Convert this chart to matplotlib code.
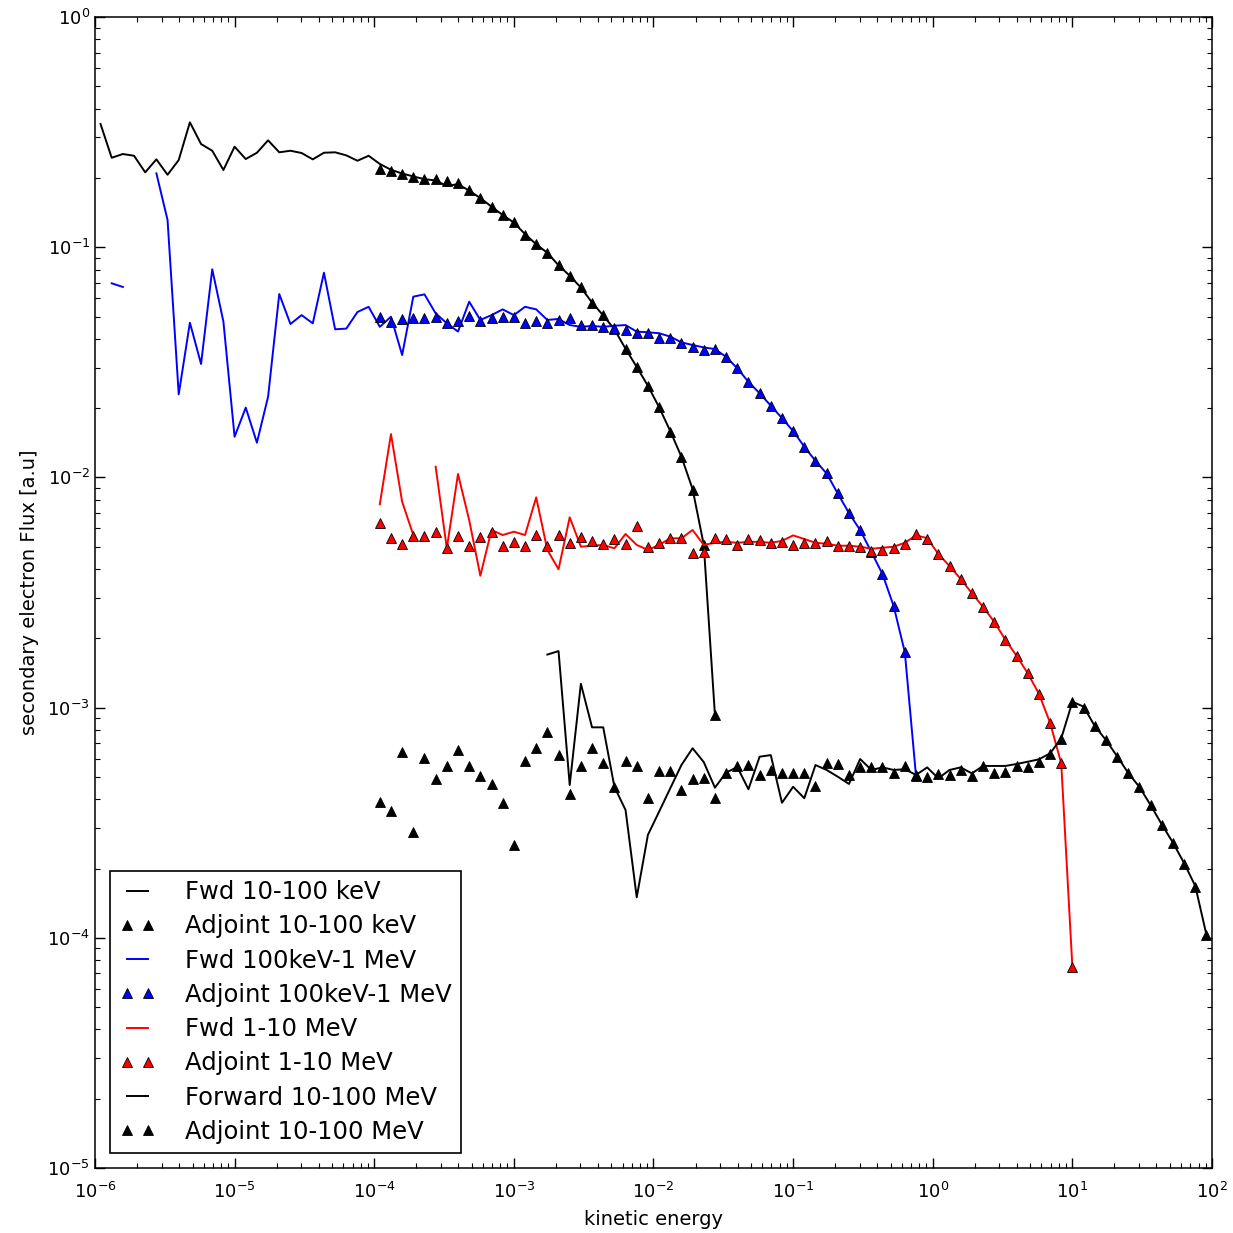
import numpy as np
import matplotlib
matplotlib.use("Agg")
import matplotlib.pyplot as plt

nan = np.nan

# energy bins: 100 log bins from 1e-6 to 1e2, values plotted at bin centres
edges = np.logspace(-6, 2, 101)
energy = np.sqrt(edges[:-1] * edges[1:])

# forward 10-100 keV, bins 0..55
fwd_10_100keV = [
    0.343, 0.2447, 0.254, 0.2496, 0.2115, 0.2408, 0.2064, 0.2392, 0.3488, 0.2807,
    0.2625, 0.2165, 0.2733, 0.2416, 0.2573, 0.2913, 0.2584, 0.2625, 0.2566, 0.2408,
    0.2573, 0.2584, 0.2506, 0.2375, 0.2496, 0.2300, 0.2170, 0.2090, 0.2030, 0.1975,
    0.1950, 0.1844, 0.1880, 0.1760, 0.1635, 0.1500, 0.1380, 0.1280, 0.1140, 0.1030,
    0.0945, 0.0835, 0.0752, 0.0668, 0.0575, 0.0505, 0.0440, 0.0362, 0.0302, 0.0250,
    0.0202, 0.0159, 0.0123, 0.0089, 0.0051, 0.00093]

# adjoint 10-100 keV, bins 25..55
adj_10_100keV = [
    0.218, 0.2143, 0.2073, 0.2024, 0.1972, 0.1972, 0.1939, 0.1895, 0.1772, 0.1641,
    0.1499, 0.138, 0.1283, 0.113, 0.1029, 0.0941, 0.0837, 0.075, 0.067, 0.0574,
    0.0507, 0.0443, 0.0361, 0.0303, 0.0249, 0.0203, 0.0158, 0.0123, 0.00881, 0.00509,
    0.000929]

# forward 100 keV-1 MeV, bins 0..73
fwd_100keV_1MeV = [
    nan, 0.0697, 0.0672, nan, nan, 0.2094, 0.1313, 0.02296, 0.04699, 0.0311,
    0.0802, 0.0475, 0.01502, 0.0201, 0.01415, 0.02242, 0.0626, 0.0464, 0.0507, 0.0467,
    0.0775, 0.0440, 0.0443, 0.0523, 0.0551, 0.0451, 0.0499, 0.0340, 0.0610, 0.0624,
    0.0516, 0.0467, 0.0430, 0.0580, 0.0483, 0.0507, 0.0537, 0.0507, 0.0551, 0.0537,
    0.0483, 0.0488, 0.0459, 0.0451, 0.0455, 0.0451, 0.0456, 0.0459, 0.0430, 0.0427,
    0.0423, 0.0409, 0.0386, 0.0376, 0.0367, 0.0361, 0.0334, 0.0298, 0.0260, 0.0232,
    0.0205, 0.0181, 0.0159, 0.0136, 0.0118, 0.0104, 0.0085, 0.0070, 0.0059, 0.00475,
    0.0038, 0.00276, 0.00174, 0.000505]

# adjoint 100 keV-1 MeV, bins 25..73
adj_100keV_1MeV = [
    0.0499, 0.0475, 0.0488, 0.0491, 0.0491, 0.0499, 0.0470, 0.0478, 0.0504, 0.0478,
    0.0491, 0.0499, 0.0499, 0.0467, 0.0478, 0.0467, 0.0483, 0.0491, 0.0459, 0.0459,
    0.0451, 0.0444, 0.0437, 0.0425, 0.0425, 0.0402, 0.0402, 0.0385, 0.0370, 0.0358,
    0.0361, 0.0334, 0.0298, 0.0260, 0.0232, 0.0205, 0.01806, 0.0159, 0.0136, 0.01181,
    0.01042, 0.00853, 0.00698, 0.00591, 0.00475, 0.00379, 0.00276, 0.00174, 0.000505]

# forward 1-10 MeV, bins 25..87
fwd_1_10MeV = [
    0.00764, 0.01543, 0.00784, 0.00562, nan, 0.01113, 0.00492, 0.01035, 0.00653, 0.00374,
    0.00591, 0.00562, 0.00581, 0.00562, 0.00819, 0.00484, 0.00399, 0.00671, 0.00500, 0.00505,
    0.00509, 0.00492, 0.00568, 0.00509, 0.00484, 0.00509, 0.00544, 0.00544, 0.00591, 0.00509,
    0.00520, 0.00525, 0.00520, 0.00525, 0.00525, 0.00520, 0.00530, 0.00560, 0.00540, 0.00520,
    0.00515, 0.00505, 0.00505, 0.00500, 0.00490, 0.00495, 0.00500, 0.00520, 0.00560, 0.00545,
    0.00465, 0.00412, 0.00362, 0.00314, 0.00274, 0.00236, 0.00197, 0.00168, 0.00141, 0.00115,
    0.000860, 0.000573, 0.0000744]

# adjoint 1-10 MeV, bins 25..87
adj_1_10MeV = [
    0.00632, 0.00544, 0.00512, 0.00556, 0.00556, 0.00581, 0.00492, 0.00556, 0.00504, 0.00553,
    0.00581, 0.00504, 0.00526, 0.00504, 0.00562, 0.00504, 0.00562, 0.00520, 0.00553, 0.00531,
    0.00514, 0.00540, 0.00514, 0.00615, 0.00497, 0.00520, 0.00547, 0.00544, 0.00468, 0.00475,
    0.00544, 0.00540, 0.00509, 0.00540, 0.00537, 0.00517, 0.00526, 0.00509, 0.00517, 0.00517,
    0.00529, 0.00505, 0.00505, 0.00500, 0.00480, 0.00484, 0.00495, 0.00514, 0.00566, 0.00538,
    0.00465, 0.00412, 0.00362, 0.00314, 0.00274, 0.00236, 0.00197, 0.00168, 0.00141, 0.00115,
    0.000860, 0.000573, 0.0000744]

# forward 10-100 MeV, bins 40..99
fwd_10_100MeV = [
    0.00170, 0.00176, 0.000461, 0.00127, 0.000821, 0.000821, 0.000453, 0.000359, 0.000150, 0.000280,
    0.000353, 0.000446, 0.000563, 0.000666, 0.000580, 0.000449, 0.000522, 0.000552, 0.000442, 0.000612,
    0.000622, 0.000386, 0.000453, 0.000404, 0.000563, 0.000536, 0.000501, 0.000466, 0.000598, 0.000536,
    0.000550, 0.000536, 0.000540, 0.000510, 0.000550, 0.000493, 0.000536, 0.000550, 0.000518, 0.000558,
    0.000558, 0.000558, 0.000569, 0.000582, 0.000596, 0.000633, 0.000735, 0.00106, 0.00101, 0.000832,
    0.000723, 0.000615, 0.000520, 0.000452, 0.000377, 0.000311, 0.000259, 0.000211, 0.000168, 0.000103]

# adjoint 10-100 MeV, bins 25..99
adj_10_100MeV = [
    0.000388, 0.000357, 0.000643, 0.000289, 0.000602, 0.000490, 0.000559, 0.000654, 0.000559, 0.000505,
    0.000466, 0.000384, 0.000253, 0.000588, 0.000670, 0.000786, 0.000622, 0.000420, 0.000558, 0.000670,
    0.000573, 0.000451, 0.000588, 0.000558, 0.000404, 0.000530, 0.000530, 0.000439, 0.000490, 0.000497,
    0.000404, 0.000518, 0.000556, 0.000566, 0.000510, 0.000536, 0.000521, 0.000521, 0.000521, 0.000456,
    0.000573, 0.000569, 0.000510, 0.000550, 0.000550, 0.000554, 0.000518, 0.000558, 0.000510, 0.000498,
    0.000515, 0.000510, 0.000536, 0.000505, 0.000558, 0.000518, 0.000527, 0.000558, 0.000554, 0.000579,
    0.000627, 0.000728, 0.00106, 0.000993, 0.000832, 0.000723, 0.000613, 0.000522, 0.000450, 0.000376,
    0.000310, 0.000258, 0.000210, 0.000167, 0.000103]


def xs(start, vals):
    return energy[start:start + len(vals)]


fig = plt.figure(figsize=(12.33, 12.33), dpi=100, facecolor="white")
ax = fig.add_axes([0.077, 0.0527, 0.906, 0.9335])

ms = 7.5
tri = dict(marker="^", linestyle="none", markersize=ms, markeredgecolor="black", markeredgewidth=0.6)

ax.plot(xs(0, fwd_10_100keV), fwd_10_100keV, color="k", lw=1.4, label="Fwd 10-100 keV")
ax.plot(xs(25, adj_10_100keV), adj_10_100keV, color="k", label="Adjoint 10-100 keV", **tri)
ax.plot(xs(0, fwd_100keV_1MeV), fwd_100keV_1MeV, color="b", lw=1.4, label="Fwd 100keV-1 MeV")
ax.plot(xs(25, adj_100keV_1MeV), adj_100keV_1MeV, color="b", label="Adjoint 100keV-1 MeV", **tri)
ax.plot(xs(25, fwd_1_10MeV), fwd_1_10MeV, color="r", lw=1.4, label="Fwd 1-10 MeV")
ax.plot(xs(25, adj_1_10MeV), adj_1_10MeV, color="r", label="Adjoint 1-10 MeV", **tri)
ax.plot(xs(40, fwd_10_100MeV), fwd_10_100MeV, color="k", lw=1.4, label="Forward 10-100 MeV")
ax.plot(xs(25, adj_10_100MeV), adj_10_100MeV, color="k", label="Adjoint 10-100 MeV", **tri)

ax.set_xscale("log")
ax.set_yscale("log")
ax.set_xlim(1e-6, 1e2)
ax.set_ylim(1e-5, 1e0)

ax.set_xlabel("kinetic energy", fontsize=14, labelpad=6)
ax.set_ylabel("secondary electron Flux [a.u]", fontsize=14, labelpad=6)

ax.tick_params(which="both", direction="in", top=True, right=True, labelsize=13)
ax.tick_params(axis="x", which="major", pad=10)
ax.tick_params(which="major", length=7, width=1)
ax.tick_params(which="minor", length=3.5, width=0.8)
for s in ax.spines.values():
    s.set_linewidth(1.1)

leg = ax.legend(loc="lower left", fontsize=17.5, numpoints=2, handlelength=1.5,
                handletextpad=1.2, labelspacing=0.42, borderaxespad=0.6,
                fancybox=False, framealpha=1, edgecolor="black", borderpad=0.4)
leg.get_frame().set_linewidth(1.2)

plt.savefig("out.png", dpi=100, facecolor="white")
